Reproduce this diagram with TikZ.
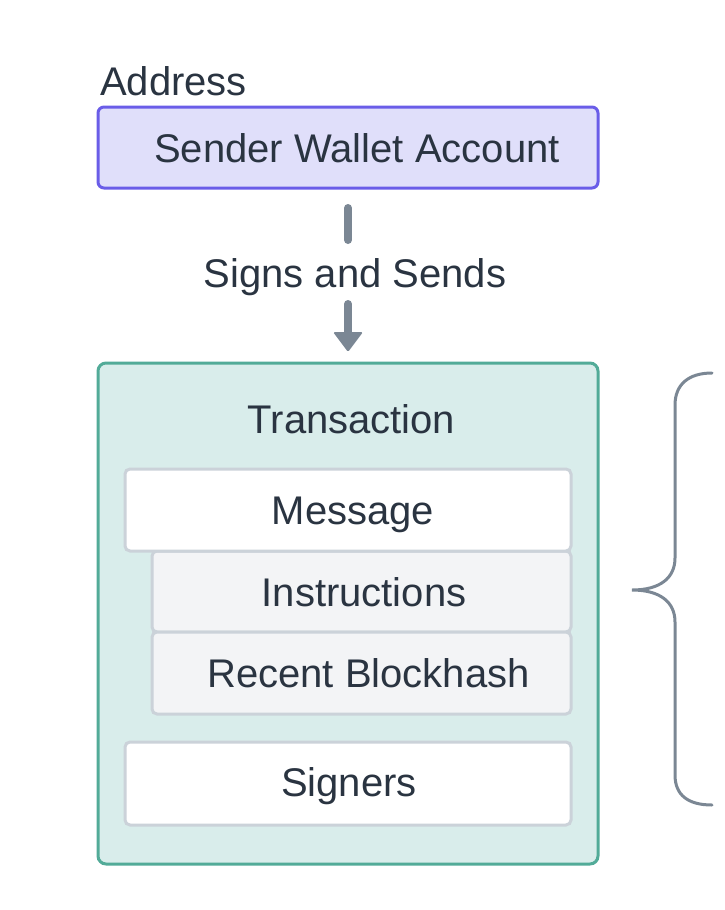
\documentclass[tikz,border=0pt]{standalone}
\usepackage{fontspec}
\setmainfont{Liberation Sans}
\usetikzlibrary{arrows.meta}
\definecolor{txtc}{HTML}{2A3441}
\definecolor{lavfill}{HTML}{E0DFFA}
\definecolor{lavdraw}{HTML}{6A5DE8}
\definecolor{tealfill}{HTML}{D9EDEB}
\definecolor{tealdraw}{HTML}{52AB98}
\definecolor{graydraw}{HTML}{CBD2D9}
\definecolor{lightfill}{HTML}{F3F4F6}
\definecolor{arrowc}{HTML}{7B8794}
\tikzset{
  box/.style={rectangle, rounded corners=6pt, line width=3pt, inner sep=0pt, outer sep=0pt},
  inbox/.style={box, draw=graydraw, rounded corners=5pt},
  txt/.style={text=txtc, font=\fontsize{40}{48}\selectfont, inner sep=0pt, anchor=base},
  conn/.style={draw=arrowc, line width=8pt, line cap=round},
}
\begin{document}
\begin{tikzpicture}[x=1pt,y=-1pt]
\useasboundingbox (0,0) rectangle (724,910);
% sender
\node[txt, anchor=base west] (addr) at (100,95) {Address};
\node[box, fill=lavfill, draw=lavdraw, minimum width=500pt, minimum height=81pt] (sender) at (348,147.5) {};
\node[txt] (sendertxt) at (357,162) {Sender Wallet Account};
% connector
\node[txt] (signs) at (355,287) {Signs and Sends};
\coordinate (a1) at (348,208);
\coordinate (a2) at (348,240);
\coordinate (b1) at (348,304);
\coordinate (b2) at (348,334);
\draw[conn] (a1) -- (a2);
\draw[conn] (b1) -- (b2);
\fill[arrowc, rounded corners=1.5pt] (333,332) -- (363,332) -- (348,352) -- cycle;
% transaction
\node[box, fill=tealfill, draw=tealdraw, rounded corners=8pt, minimum width=500pt, minimum height=501pt] (tx) at (348,613.5) {};
\node[txt] (txtxt) at (351.5,433) {Transaction};
\node[inbox, fill=lightfill, minimum width=419pt, minimum height=81pt] (instr) at (361.5,591.5) {};
\node[inbox, fill=lightfill, minimum width=419pt, minimum height=82pt] (recent) at (361.5,673) {};
\node[inbox, fill=white, minimum width=446pt, minimum height=82pt] (msg) at (348,510) {};
\node[inbox, fill=white, minimum width=446pt, minimum height=83pt] (sig) at (348,783.5) {};
\node[txt] (msgtxt) at (353,524) {Message};
\node[txt] (instrtxt) at (364,606) {Instructions};
\node[txt] (recenttxt) at (368.5,687) {Recent Blockhash};
\node[txt] (sigtxt) at (349,796) {Signers};
% brace
\draw[draw=arrowc, line width=3pt, line cap=round]
  (712,373) .. controls (688,373) and (675,385) .. (675,405)
  -- (675,558) .. controls (675,578) and (660,590) .. (632,590)
  .. controls (660,590) and (675,602) .. (675,622)
  -- (675,775) .. controls (675,795) and (688,805) .. (712,805);
\end{tikzpicture}
\end{document}
